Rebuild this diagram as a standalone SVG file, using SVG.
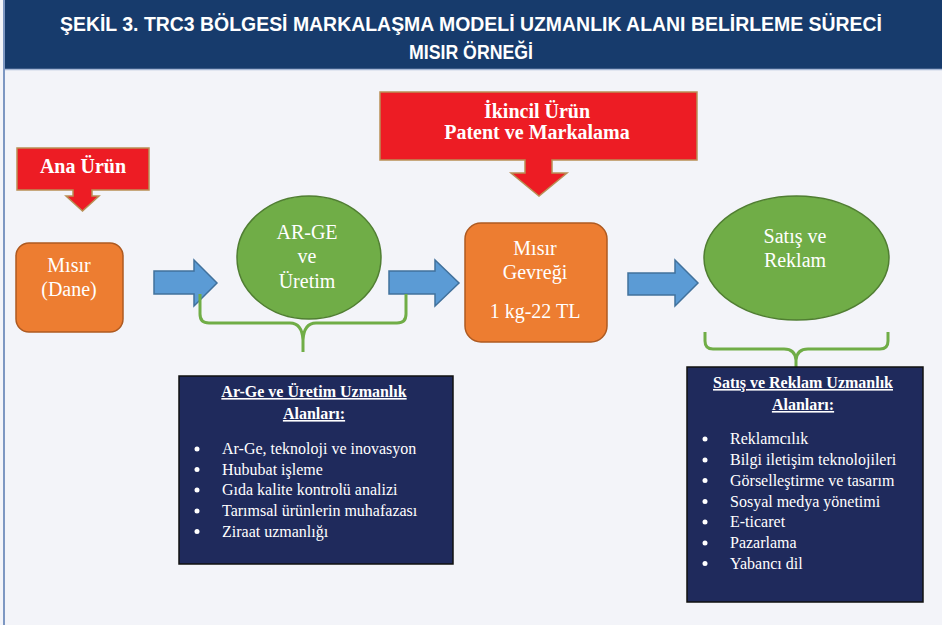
<svg xmlns="http://www.w3.org/2000/svg" width="942" height="625" viewBox="0 0 942 625">
  <defs>
    <style>
      .title { font-family: "Liberation Sans", Arial, sans-serif; font-weight: bold; font-size: 20px; fill: #ffffff; }
      .serif { font-family: "Liberation Serif", "Times New Roman", serif; fill: #ffffff; }
      .node-text { font-size: 20px; text-anchor: middle; }
      .banner-text { font-size: 20px; font-weight: bold; text-anchor: middle; }
      .box-title { font-size: 16px; font-weight: bold; text-anchor: middle; text-decoration: underline; }
      .item { font-size: 16px; }
      .banner { fill: #ed1c24; stroke: #b98f55; stroke-width: 1.5; }
      .rbox { fill: #ed7d31; stroke: #ae5a21; stroke-width: 1.5; }
      .oval { fill: #70ad47; stroke: #507e32; stroke-width: 1.5; }
      .flow { fill: #5b9bd5; stroke: #41719c; stroke-width: 1.5; }
      .brace { fill: none; stroke: #70ad47; stroke-width: 3; stroke-linejoin: round; }
      .panel { fill: #1f2a5c; stroke: #111111; stroke-width: 1.5; }
      .dot { fill: #ffffff; }
    </style>
  </defs>

  <!-- page -->
  <rect x="0" y="0" width="942" height="625" fill="#f3f4f9"/>
  <rect x="4" y="0" width="938" height="69" fill="#173b6c"/>
  <line x1="4" y1="69.5" x2="942" y2="69.5" stroke="#a9b9d6" stroke-width="1.5"/>
  <line x1="4" y1="0" x2="4" y2="625" stroke="#7d97c2" stroke-width="2"/>

  <text class="title" x="471" y="31" text-anchor="middle" textLength="822" lengthAdjust="spacingAndGlyphs">ŞEKİL 3. TRC3 BÖLGESİ MARKALAŞMA MODELİ UZMANLIK ALANI BELİRLEME SÜRECİ</text>
  <text class="title" x="471" y="59" text-anchor="middle" textLength="124" lengthAdjust="spacingAndGlyphs">MISIR ÖRNEĞİ</text>

  <!-- connectors: flow arrows and grouping braces -->
  <g id="connectors">
    <path class="flow" d="M154,271 H194 V260 L217,283 L194,306 V294 H154 Z"/>
    <path class="flow" d="M389,271 H435 V260 L459,283 L435,306 V294 H389 Z"/>
    <path class="flow" d="M628,273 H675 V260 L698,283 L675,306 V295 H628 Z"/>
    <path class="brace" d="M200,294 V314 Q200,323 209,323 H290 Q302,323 303,340 V352 M406,294 V314 Q406,323 397,323 H316 Q304,323 303,340"/>
    <path class="brace" d="M705,332 V341 Q705,349 713,349 H784 Q795,349 796,360 V368 M888,332 V341 Q888,349 880,349 H808 Q797,349 796,360"/>
  </g>

  <!-- callout banners -->
  <g id="ana-urun">
    <path class="banner" d="M17,148 H149 V190 H92 V196 H99 L82.5,211 L66,196 H73 V190 H17 Z"/>
    <text class="serif banner-text" x="83" y="173">Ana Ürün</text>
  </g>
  <g id="ikincil-urun">
    <path class="banner" d="M380,92 H697 V160 H552 V173 H567 L539,196 L511,173 H525 V160 H380 Z"/>
    <text class="serif banner-text" x="537" y="118">İkincil Ürün</text>
    <text class="serif banner-text" x="537" y="139">Patent ve Markalama</text>
  </g>

  <!-- process nodes -->
  <g id="misir-dane">
    <rect class="rbox" x="16" y="243" width="107" height="89" rx="13"/>
    <text class="serif node-text" x="69" y="272">Mısır</text>
    <text class="serif node-text" x="69" y="296">(Dane)</text>
  </g>
  <g id="arge-uretim">
    <ellipse class="oval" cx="309" cy="257.5" rx="72" ry="61.5"/>
    <text class="serif node-text" x="307" y="239">AR-GE</text>
    <text class="serif node-text" x="307" y="263">ve</text>
    <text class="serif node-text" x="307" y="288">Üretim</text>
  </g>
  <g id="misir-gevregi">
    <rect class="rbox" x="465" y="223" width="142" height="119" rx="16"/>
    <text class="serif node-text" x="535" y="255">Mısır</text>
    <text class="serif node-text" x="535" y="279">Gevreği</text>
    <text class="serif node-text" x="535" y="318">1 kg-22 TL</text>
  </g>
  <g id="satis-reklam">
    <ellipse class="oval" cx="796.5" cy="258" rx="92.5" ry="62"/>
    <text class="serif node-text" x="795" y="243">Satış ve</text>
    <text class="serif node-text" x="795" y="267">Reklam</text>
  </g>

  <!-- expertise panels -->
  <g id="arge-alanlari">
    <rect class="panel" x="179" y="376" width="274" height="188"/>
    <text class="serif box-title" x="314" y="397">Ar-Ge ve Üretim Uzmanlık</text>
    <text class="serif box-title" x="314" y="419">Alanları:</text>
    <circle class="dot" cx="197" cy="449" r="2.5"/>
    <circle class="dot" cx="197" cy="469.5" r="2.5"/>
    <circle class="dot" cx="197" cy="490" r="2.5"/>
    <circle class="dot" cx="197" cy="511" r="2.5"/>
    <circle class="dot" cx="197" cy="531.5" r="2.5"/>
    <text class="serif item" x="222" y="454">Ar-Ge, teknoloji ve inovasyon</text>
    <text class="serif item" x="222" y="474.5">Hububat işleme</text>
    <text class="serif item" x="222" y="495">Gıda kalite kontrolü analizi</text>
    <text class="serif item" x="222" y="516">Tarımsal ürünlerin muhafazası</text>
    <text class="serif item" x="222" y="536.5">Ziraat uzmanlığı</text>
  </g>
  <g id="satis-alanlari">
    <rect class="panel" x="687" y="367" width="236" height="235"/>
    <text class="serif box-title" x="803" y="388">Satış ve Reklam Uzmanlık</text>
    <text class="serif box-title" x="803" y="410">Alanları:</text>
    <circle class="dot" cx="705" cy="439" r="2.5"/>
    <circle class="dot" cx="705" cy="460" r="2.5"/>
    <circle class="dot" cx="705" cy="480.5" r="2.5"/>
    <circle class="dot" cx="705" cy="501.5" r="2.5"/>
    <circle class="dot" cx="705" cy="522" r="2.5"/>
    <circle class="dot" cx="705" cy="543" r="2.5"/>
    <circle class="dot" cx="705" cy="563.5" r="2.5"/>
    <text class="serif item" x="730" y="444">Reklamcılık</text>
    <text class="serif item" x="730" y="465">Bilgi iletişim teknolojileri</text>
    <text class="serif item" x="730" y="485.5">Görselleştirme ve tasarım</text>
    <text class="serif item" x="730" y="506.5">Sosyal medya yönetimi</text>
    <text class="serif item" x="730" y="527">E-ticaret</text>
    <text class="serif item" x="730" y="548">Pazarlama</text>
    <text class="serif item" x="730" y="568.5">Yabancı dil</text>
  </g>
</svg>
